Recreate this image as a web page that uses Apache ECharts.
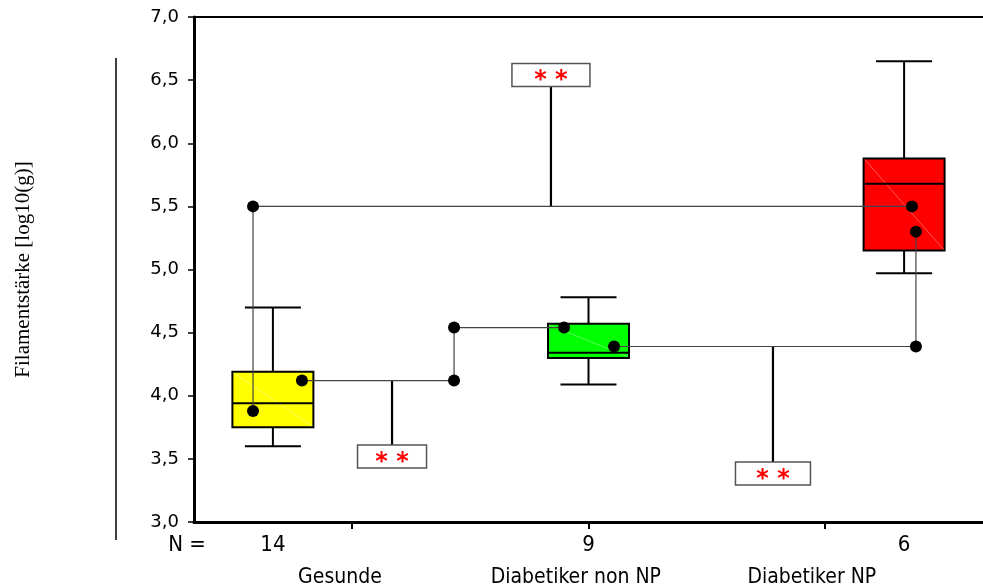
<!DOCTYPE html>
<html>
<head>
<meta charset="utf-8">
<script src="https://cdn.jsdelivr.net/npm/echarts@6/dist/echarts.min.js"></script>
<style>
  html, body { margin: 0; padding: 0; background: #fff; }
  #chart { width: 983px; height: 587px; }
</style>
</head>
<body>
<div id="chart"></div>
<script>
// ---- data ----
const groupNames = ['Gesunde', 'Diabetiker non NP', 'Diabetiker NP'];
const groupCounts = [14, 9, 6];
const groupPositions = [0.5, 2.5, 4.5];          // box centres on the x scale
const groupTickPositions = [1, 2.5, 4];          // category ticks on the x scale
const groupLabelPositions = [0.925, 2.42, 3.915]; // category name centres
const yMin = 3.0, yMax = 7.0, yStep = 0.5;

// [min, Q1, median, Q3, max] of log10(g)
const boxStats = [
  [3.60, 3.75, 3.94, 4.19, 4.70],
  [4.09, 4.30, 4.34, 4.57, 4.78],
  [4.97, 5.15, 5.68, 5.88, 6.65]
];

// pairwise comparison connectors: [x, log10(g)] vertices, a dot on each vertex
const comparePaths = [
  [[0.374, 3.88], [0.374, 5.50], [4.55, 5.50]],
  [[0.684, 4.12], [1.648, 4.12], [1.648, 4.54], [2.345, 4.54]],
  [[2.662, 4.39], [4.575, 4.39], [4.575, 5.30]]
];
// significance stems: [x, start, end] and the label shown at the end
const compareStems = [
  [2.262, 5.50, 6.45],
  [1.255, 4.12, 3.61],
  [3.669, 4.39, 3.475]
];
const compareLabels = ['* *', '* *', '* *'];

// ---- styling ----
const boxColors = ['#ffff00', '#00ff00', '#ff0000'];
const BOX_W = 81, CAP_W = 56;
const SIG_W = [78, 69, 75], SIG_H = 23;
const labelFont = "'Liberation Sans Narrow', 'DejaVu Sans Condensed', 'Liberation Sans', sans-serif";

const chart = echarts.init(document.getElementById('chart'), null, { renderer: 'canvas' });

function boxItem(params, api) {
  const x = api.value(0);
  const mn = api.value(1), q1 = api.value(2), md = api.value(3), q3 = api.value(4), mx = api.value(5);
  const pMin = api.coord([x, mn]), pQ1 = api.coord([x, q1]), pMd = api.coord([x, md]);
  const pQ3 = api.coord([x, q3]), pMax = api.coord([x, mx]);
  const cx = pMd[0];
  const left = cx - BOX_W / 2, right = cx + BOX_W / 2;
  const line = { stroke: '#000', lineWidth: 2 };
  return {
    type: 'group',
    children: [
      { type: 'line', shape: { x1: cx, y1: pMax[1], x2: cx, y2: pQ3[1] }, style: line },
      { type: 'line', shape: { x1: cx, y1: pQ1[1], x2: cx, y2: pMin[1] }, style: line },
      { type: 'line', shape: { x1: cx - CAP_W / 2, y1: pMax[1], x2: cx + CAP_W / 2, y2: pMax[1] }, style: line },
      { type: 'line', shape: { x1: cx - CAP_W / 2, y1: pMin[1], x2: cx + CAP_W / 2, y2: pMin[1] }, style: line },
      {
        type: 'rect',
        shape: { x: left, y: pQ3[1], width: BOX_W, height: pQ1[1] - pQ3[1] },
        style: { fill: boxColors[params.dataIndex], stroke: '#000', lineWidth: 2 }
      },
      {
        type: 'line',
        shape: { x1: left + 1, y1: pQ3[1] + 1, x2: right - 1, y2: pQ1[1] - 1 },
        style: { stroke: 'rgba(255,255,255,0.35)', lineWidth: 1 }
      },
      { type: 'line', shape: { x1: left, y1: pMd[1], x2: right, y2: pMd[1] }, style: line }
    ]
  };
}

function stemItem(params, api) {
  const x = api.value(0), y0 = api.value(1), y1 = api.value(2);
  const a = api.coord([x, y0]), b = api.coord([x, y1]);
  const w = SIG_W[params.dataIndex];
  const up = b[1] < a[1];
  const top = up ? b[1] - SIG_H : b[1];
  return {
    type: 'group',
    children: [
      { type: 'line', shape: { x1: a[0], y1: a[1], x2: b[0], y2: b[1] }, style: { stroke: '#000', lineWidth: 2.2 } },
      {
        type: 'rect',
        shape: { x: b[0] - w / 2, y: top, width: w, height: SIG_H },
        style: { fill: '#fff', stroke: '#555', lineWidth: 1.5 }
      },
      {
        type: 'text',
        x: b[0], y: top + SIG_H / 2 + 6,
        style: {
          text: compareLabels[params.dataIndex],
          fill: '#ff0000', fontSize: 24, fontWeight: 'bold',
          fontFamily: 'DejaVu Sans', align: 'center', verticalAlign: 'middle'
        }
      }
    ]
  };
}

const pathSeries = comparePaths.map(path => ({
  type: 'line',
  data: path,
  symbol: 'circle',
  symbolSize: 12,
  showAllSymbol: true,
  itemStyle: { color: '#000' },
  lineStyle: { color: '#444', width: 1.2 },
  animation: false,
  z: 5
}));

const option = {
  animation: false,
  grid: { left: 194, right: 0, top: 17, bottom: 65, containLabel: false, outerBoundsMode: 'none' },
  xAxis: [
    {
      type: 'value', min: 0, max: 5, position: 'bottom',
      axisLine: { show: true, lineStyle: { color: '#000', width: 3 } },
      axisTick: { show: true, customValues: groupTickPositions, length: 7, lineStyle: { color: '#000', width: 2 } },
      axisLabel: {
        show: true,
        customValues: groupLabelPositions,
        formatter: v => groupNames[groupLabelPositions.indexOf(v)] || '',
        margin: 45, fontFamily: labelFont, fontSize: 21, color: '#000'
      },
      splitLine: { show: false }
    },
    {
      type: 'value', min: 0, max: 5, position: 'top',
      axisLine: { show: true, lineStyle: { color: '#000', width: 2 } },
      axisTick: { show: false }, axisLabel: { show: false }, splitLine: { show: false }
    },
    {
      type: 'value', min: 0, max: 5, position: 'bottom',
      axisLine: { show: false }, axisTick: { show: false }, splitLine: { show: false },
      axisLabel: {
        show: true,
        customValues: groupPositions,
        formatter: v => String(groupCounts[groupPositions.indexOf(v)]),
        margin: 12, fontFamily: labelFont, fontSize: 22, color: '#000'
      }
    }
  ],
  yAxis: {
    type: 'value', min: yMin, max: yMax, interval: yStep,
    name: 'Filamentstärke [log10(g)]',
    nameLocation: 'middle', nameRotate: 90, nameGap: 160,
    nameTextStyle: { fontFamily: "'Liberation Serif', serif", fontSize: 21, color: '#000' },
    axisLine: { show: true, lineStyle: { color: '#000', width: 3 } },
    axisTick: { show: true, length: 6, lineStyle: { color: '#000', width: 1.5 } },
    axisLabel: {
      formatter: v => v.toFixed(1).replace('.', ','),
      margin: 15, fontFamily: 'DejaVu Sans', fontSize: 18, color: '#000'
    },
    splitLine: { show: false }
  },
  graphic: [
    { type: 'line', shape: { x1: 116, y1: 58, x2: 116, y2: 540 }, style: { stroke: '#000', lineWidth: 1.5 } },
    {
      type: 'text', x: 187, y: 545,
      style: { text: 'N =', fontFamily: labelFont, fontSize: 22, fill: '#000', align: 'center', verticalAlign: 'middle' }
    }
  ],
  series: [
    {
      type: 'custom',
      renderItem: boxItem,
      data: boxStats.map((s, i) => [groupPositions[i]].concat(s)),
      encode: { x: 0, y: [1, 2, 3, 4, 5] },
      z: 2
    },
    {
      type: 'custom',
      renderItem: stemItem,
      data: compareStems,
      encode: { x: 0, y: [1, 2] },
      z: 4
    }
  ].concat(pathSeries)
};

chart.setOption(option);
</script>
</body>
</html>
